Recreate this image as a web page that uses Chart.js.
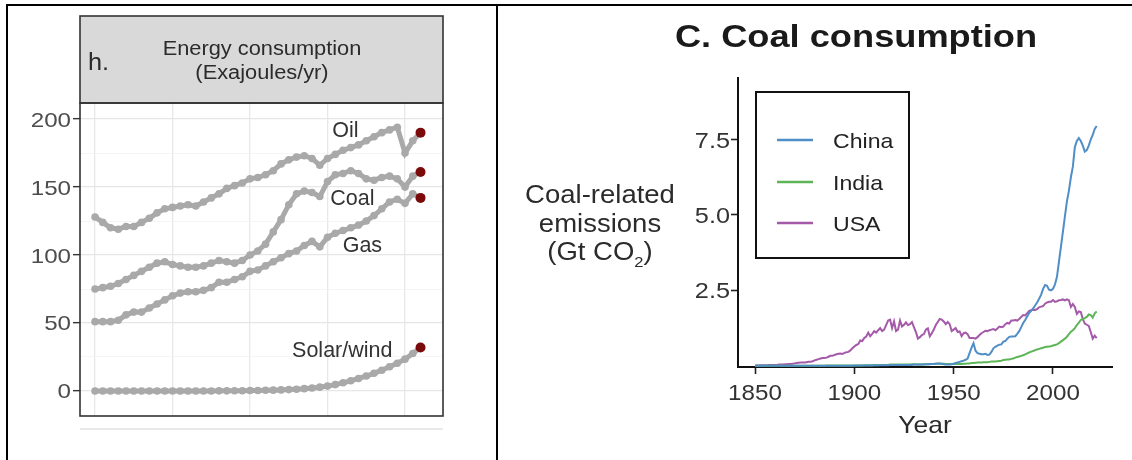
<!DOCTYPE html>
<html>
<head>
<meta charset="utf-8">
<title>Energy consumption and coal consumption</title>
<script src="https://cdn.jsdelivr.net/npm/chart.js@4.4.1/dist/chart.umd.min.js"></script>
<style>
  html, body { margin: 0; padding: 0; background: #fff; }
  #page { position: relative; width: 1132px; height: 460px; overflow: hidden; background: #fff; }
  canvas { position: absolute; top: 0; }
  #energy { left: 0; }
  #coal { left: 498px; }
  .rule { position: absolute; background: #000; z-index: 2; }
</style>
</head>
<body>
<div id="page">
  <canvas id="energy" width="497" height="460"></canvas>
  <canvas id="coal" width="634" height="460"></canvas>
  <div class="rule" style="left:6px;top:4px;width:1126px;height:2px"></div>
  <div class="rule" style="left:6px;top:4px;width:2px;height:456px"></div>
  <div class="rule" style="left:496px;top:4px;width:2px;height:456px"></div>
</div>
<script>
// ---------- Energy consumption (EJ per year), one value per year from 1980 ----------
const energyStartYear = 1980;
const oil = [
  128, 124, 120, 119, 121, 121, 124, 127, 131, 134,
  135, 136, 137, 136, 139, 142, 145, 149, 151, 153,
  156, 157, 159, 162, 167, 170, 172, 173, 171, 166,
  171, 174, 177, 179, 181, 184, 187, 190, 192, 194,
  175, 184, 190
];
const coal = [
  75, 76, 77, 79, 82, 85, 88, 91, 94, 95,
  93, 92, 91, 91, 92, 94, 96, 95, 94, 96,
  100, 103, 108, 117, 126, 137, 145, 147, 146, 143,
  154, 159, 160, 162, 160, 156, 155, 157, 158, 156,
  150, 158, 161
];
const gas = [
  51, 51, 51, 52, 56, 58, 58, 61, 64, 67,
  70, 72, 73, 73, 74, 76, 80, 80, 82, 84,
  88, 89, 92, 95, 98, 101, 103, 107, 110, 106,
  113, 116, 118, 120, 122, 125, 129, 134, 139, 141,
  138, 145, 142
];
const solarWind = [
  0, 0, 0, 0, 0, 0, 0, 0, 0, 0,
  0, 0, 0, 0, 0, 0, 0.1, 0.1, 0.2, 0.2,
  0.3, 0.4, 0.5, 0.6, 0.8, 1.0, 1.3, 1.7, 2.2, 2.8,
  3.6, 4.7, 6.0, 7.5, 9.2, 11.0, 13.0, 15.3, 17.8, 20.4,
  23.4, 27.6, 32
];
const energyNames = ['Oil', 'Coal', 'Gas', 'Solar/wind'];
const energyTickValues = [0, 50, 100, 150, 200];
const energyTickLabels = ['0', '50', '100', '150', '200'];
const energyMinorValues = [25, 75, 125, 175];
const energyGridYears = [1980, 1990, 2000, 2010, 2020];

// ---------- Coal-related CO2 emissions (Gt per year), one value per year from 1850 ----------
const coalStartYear = 1850;
const china = [
  0, 0, 0, 0, 0, 0, 0, 0, 0, 0,
  0, 0, 0, 0, 0, 0, 0, 0, 0, 0,
  0, 0, 0, 0, 0, 0, 0, 0, 0, 0,
  0, 0, 0, 0, 0, 0, 0, 0, 0, 0,
  0, 0, 0, 0, 0, 0, 0, 0, 0, 0,
  0.01, 0.01, 0.01, 0.01, 0.01, 0.01, 0.01, 0.01, 0.01, 0.01,
  0.02, 0.02, 0.02, 0.02, 0.02, 0.02, 0.02, 0.02, 0.03, 0.03,
  0.03, 0.03, 0.03, 0.03, 0.03, 0.03, 0.03, 0.03, 0.03, 0.03,
  0.04, 0.04, 0.04, 0.04, 0.04, 0.04, 0.05, 0.05, 0.05, 0.06,
  0.06, 0.07, 0.08, 0.08, 0.07, 0.05, 0.04, 0.04, 0.04, 0.05,
  0.07, 0.09, 0.11, 0.13, 0.15, 0.17, 0.20, 0.24, 0.42, 0.60,
  0.75, 0.50, 0.42, 0.40, 0.38, 0.38, 0.40, 0.36, 0.37, 0.46,
  0.58, 0.63, 0.67, 0.70, 0.71, 0.80, 0.82, 0.90, 0.96, 0.97,
  0.97, 0.98, 1.06, 1.15, 1.28, 1.42, 1.52, 1.63, 1.75, 1.82,
  1.90, 2.00, 2.10, 2.22, 2.35, 2.55, 2.68, 2.65, 2.52, 2.50,
  2.55, 2.70, 2.95, 3.45, 3.95, 4.45, 4.95, 5.45, 5.80, 6.25,
  6.60, 7.25, 7.45, 7.55, 7.45, 7.30, 7.10, 7.15, 7.30, 7.50,
  7.65, 7.85, 7.95
];
const india = [
  0, 0, 0, 0, 0, 0, 0, 0, 0, 0,
  0, 0, 0, 0, 0, 0, 0, 0, 0, 0,
  0, 0, 0, 0, 0, 0, 0, 0, 0, 0,
  0, 0, 0, 0, 0, 0, 0.01, 0.01, 0.01, 0.01,
  0.01, 0.01, 0.01, 0.01, 0.01, 0.01, 0.01, 0.01, 0.01, 0.01,
  0.01, 0.01, 0.01, 0.01, 0.01, 0.02, 0.02, 0.02, 0.02, 0.02,
  0.02, 0.02, 0.02, 0.03, 0.03, 0.03, 0.03, 0.03, 0.04, 0.04,
  0.04, 0.04, 0.04, 0.04, 0.04, 0.04, 0.04, 0.04, 0.04, 0.05,
  0.05, 0.04, 0.04, 0.04, 0.04, 0.05, 0.05, 0.05, 0.06, 0.06,
  0.06, 0.07, 0.07, 0.07, 0.07, 0.07, 0.06, 0.06, 0.06, 0.06,
  0.06, 0.06, 0.06, 0.06, 0.06, 0.07, 0.07, 0.08, 0.08, 0.09,
  0.09, 0.10, 0.11, 0.11, 0.11, 0.12, 0.12, 0.12, 0.13, 0.14,
  0.14, 0.14, 0.15, 0.16, 0.17, 0.19, 0.20, 0.21, 0.21, 0.23,
  0.24, 0.27, 0.29, 0.31, 0.33, 0.35, 0.38, 0.41, 0.44, 0.47,
  0.49, 0.52, 0.54, 0.56, 0.58, 0.60, 0.62, 0.63, 0.64, 0.65,
  0.67, 0.69, 0.71, 0.75, 0.80, 0.85, 0.90, 0.96, 1.05, 1.13,
  1.18, 1.25, 1.35, 1.43, 1.52, 1.55, 1.58, 1.62, 1.70, 1.68,
  1.60, 1.74, 1.80
];
const usa = [
  0.01, 0.01, 0.01, 0.02, 0.02, 0.02, 0.02, 0.03, 0.03, 0.03,
  0.03, 0.03, 0.04, 0.04, 0.04, 0.05, 0.05, 0.06, 0.06, 0.07,
  0.08, 0.09, 0.10, 0.11, 0.11, 0.11, 0.12, 0.13, 0.13, 0.15,
  0.18, 0.20, 0.22, 0.24, 0.26, 0.26, 0.27, 0.30, 0.33, 0.33,
  0.36, 0.38, 0.40, 0.41, 0.39, 0.43, 0.45, 0.46, 0.51, 0.58,
  0.64, 0.69, 0.72, 0.84, 0.82, 0.92, 0.97, 1.10, 0.98, 1.06,
  1.15, 1.10, 1.18, 1.25, 1.15, 1.20, 1.35, 1.50, 1.53, 1.25,
  1.47, 1.15, 1.20, 1.50, 1.30, 1.36, 1.44, 1.35, 1.38, 1.45,
  1.28, 1.12, 0.90, 0.95, 1.02, 1.05, 1.20, 1.24, 0.98, 1.08,
  1.20, 1.35, 1.45, 1.55, 1.53, 1.47, 1.38, 1.45, 1.38, 1.15,
  1.20, 1.25, 1.12, 1.14, 0.98, 1.08, 1.10, 1.05, 0.92, 0.92,
  0.92, 0.90, 0.95, 1.02, 1.08, 1.12, 1.16, 1.15, 1.18, 1.20,
  1.22, 1.18, 1.24, 1.30, 1.28, 1.30, 1.38, 1.42, 1.40, 1.50,
  1.50, 1.52, 1.50, 1.55, 1.62, 1.68, 1.67, 1.74, 1.82, 1.84,
  1.86, 1.85, 1.88, 1.94, 1.96, 1.98, 2.06, 2.10, 2.12, 2.12,
  2.18, 2.12, 2.14, 2.17, 2.18, 2.20, 2.17, 2.20, 2.17, 1.95,
  2.05, 1.95, 1.72, 1.80, 1.78, 1.55, 1.40, 1.36, 1.32, 1.12,
  0.90, 1.00, 0.92
];
const coalNames = ['China', 'India', 'USA'];
const coalYearTicks = [1850, 1900, 1950, 2000];
const coalValueTicks = [2.5, 5.0, 7.5];
const coalValueLabels = ['2.5', '5.0', '7.5'];

// ---------- styling ----------
const FONT = '"Liberation Sans", Arial, Helvetica, sans-serif';
const pointGrey = '#a9a9a9';
const lastPointRed = '#7b0a0a';
const coalColors = { China: '#4f8ec6', India: '#5db558', USA: '#a559a9' };
// where each energy label sits, in data units (year, EJ)
const energyLabelAt = {
  'Oil': [2012.3, 192.5],
  'Coal': [2013.2, 142.3],
  'Gas': [2014.5, 107.4],
  'Solar/wind': [2011.9, 30.5]
};

function toPoints(values, startYear) {
  return values.map((v, i) => ({ x: startYear + i, y: v }));
}

// text drawn with a slight horizontal widening of the glyphs
function wideText(ctx, str, x, y, font, color, align, sx) {
  ctx.save();
  ctx.font = font;
  ctx.fillStyle = color;
  ctx.textBaseline = 'alphabetic';
  ctx.textAlign = 'left';
  const w = ctx.measureText(str).width * sx;
  let x0 = x;
  if (align === 'center') x0 = x - w / 2;
  else if (align === 'right') x0 = x - w;
  ctx.translate(x0, y);
  ctx.scale(sx, 1);
  ctx.fillText(str, 0, 0);
  ctx.restore();
  return w;
}

// ---------- left panel ----------
const energyValues = [oil, coal, gas, solarWind];

const energyDecor = {
  id: 'energyDecor',
  beforeDraw(chart) {
    const { ctx, chartArea: a } = chart;
    ctx.save();
    ctx.fillStyle = '#d9d9d9';
    ctx.fillRect(a.left, 16, a.right - a.left, a.top - 16);
    ctx.restore();
  },
  afterDraw(chart) {
    const { ctx, chartArea: a, scales: { x, y } } = chart;
    ctx.save();
    ctx.strokeStyle = '#333';
    ctx.lineWidth = 1.6;
    ctx.strokeRect(a.left, 16, a.right - a.left, a.top - 16);
    ctx.strokeRect(a.left, a.top, a.right - a.left, a.bottom - a.top);
    ctx.restore();

    // strip text
    wideText(ctx, 'h.', 88, 70, '23px ' + FONT, '#2b2b2b', 'left', 1.1);
    wideText(ctx, 'Energy consumption', 262, 55, '20px ' + FONT, '#2b2b2b', 'center', 1.09);
    wideText(ctx, '(Exajoules/yr)', 262, 79, '20px ' + FONT, '#2b2b2b', 'center', 1.09);

    // value-axis labels
    energyTickValues.forEach((v, i) => {
      wideText(ctx, energyTickLabels[i], 71, y.getPixelForValue(v) + 7.5, '21px ' + FONT, '#4d4d4d', 'right', 1.15);
    });

    // series names
    energyNames.forEach(name => {
      const [lx, ly] = energyLabelAt[name];
      wideText(ctx, name, x.getPixelForValue(lx), y.getPixelForValue(ly) + 7.5, '21.5px ' + FONT, '#333', 'center', 1.0);
    });

    ctx.save();
    ctx.fillStyle = '#e9e9e9';
    ctx.fillRect(a.left, a.bottom + 12, a.right - a.left, 2);
    ctx.restore();
  }
};

new Chart(document.getElementById('energy'), {
  type: 'line',
  data: {
    datasets: energyNames.map((name, k) => ({
      label: name,
      data: toPoints(energyValues[k], energyStartYear),
      borderColor: pointGrey,
      borderWidth: 5,
      tension: 0,
      pointRadius: ctx => ctx.dataIndex === energyValues[k].length - 1 ? 5 : 3.8,
      pointBackgroundColor: ctx => ctx.dataIndex === energyValues[k].length - 1 ? lastPointRed : pointGrey,
      pointBorderWidth: 0,
      pointHoverRadius: 0
    }))
  },
  options: {
    responsive: false,
    animation: false,
    devicePixelRatio: 1,
    layout: { padding: { left: 0, top: 103, right: 54, bottom: 44 } },
    plugins: { legend: { display: false }, tooltip: { enabled: false } },
    scales: {
      x: {
        type: 'linear',
        min: 1978.06,
        max: 2024.9,
        afterBuildTicks: s => { s.ticks = energyGridYears.map(v => ({ value: v })); },
        afterFit: s => { s.height = 0; },
        ticks: { display: false },
        grid: { color: '#e8e8e8', lineWidth: 1.3, drawTicks: false },
        border: { display: false }
      },
      y: {
        type: 'linear',
        min: -18.4,
        max: 211.8,
        afterBuildTicks: s => {
          s.ticks = energyTickValues.concat(energyMinorValues).sort((a, b) => a - b).map(v => ({ value: v }));
        },
        afterFit: s => { s.width = 80; },
        ticks: { display: false },
        grid: {
          color: c => energyTickValues.includes(c.tick.value) ? '#e6e6e6' : '#f2f2f2',
          lineWidth: c => energyTickValues.includes(c.tick.value) ? 1.3 : 0.8,
          tickColor: c => energyTickValues.includes(c.tick.value) ? '#333' : 'rgba(0,0,0,0)',
          tickLength: 7,
          tickWidth: 1.4
        },
        border: { display: false }
      }
    }
  },
  plugins: [energyDecor]
});

// ---------- right panel ----------
const coalValues = [china, india, usa];

const coalDecor = {
  id: 'coalDecor',
  afterDraw(chart) {
    const { ctx, scales: { x, y } } = chart;
    const ink = '#2b2b2b';

    wideText(ctx, 'C. Coal consumption', 358, 47, 'bold 31.5px ' + FONT, '#1a1a1a', 'center', 1.15);

    // axis tick labels
    coalYearTicks.forEach(v => {
      wideText(ctx, String(v), x.getPixelForValue(v), 400, '22px ' + FONT, '#333', 'center', 1.1);
    });
    coalValueTicks.forEach((v, i) => {
      wideText(ctx, coalValueLabels[i], 232, y.getPixelForValue(v) + 8, '22px ' + FONT, '#333', 'right', 1.15);
    });

    // value-axis title, three lines with a subscript 2
    const big = '25px ' + FONT, small = '15px ' + FONT, sx = 1.1;
    wideText(ctx, 'Coal-related', 102, 203, big, ink, 'center', sx);
    wideText(ctx, 'emissions', 102, 232, big, ink, 'center', sx);
    ctx.save();
    ctx.font = big;
    const wA = ctx.measureText('(Gt CO').width * sx;
    const wB = ctx.measureText(')').width * sx;
    ctx.font = small;
    const wS = ctx.measureText('2').width * sx;
    ctx.restore();
    const left = 102 - (wA + wS + wB) / 2;
    wideText(ctx, '(Gt CO', left, 260, big, ink, 'left', sx);
    wideText(ctx, '2', left + wA, 267, small, ink, 'left', sx);
    wideText(ctx, ')', left + wA + wS, 260, big, ink, 'left', sx);

    // time-axis title
    wideText(ctx, 'Year', 427, 433, '24px ' + FONT, ink, 'center', 1.1);

    // legend box
    ctx.save();
    ctx.strokeStyle = '#111';
    ctx.lineWidth = 2;
    ctx.strokeRect(258, 92, 153, 166);
    const rowY = [140, 182, 223];
    coalNames.forEach((name, k) => {
      ctx.strokeStyle = coalColors[name];
      ctx.lineWidth = 2.5;
      ctx.beginPath();
      ctx.moveTo(279, rowY[k]);
      ctx.lineTo(315, rowY[k]);
      ctx.stroke();
    });
    ctx.restore();
    coalNames.forEach((name, k) => {
      wideText(ctx, name, 335, rowY_(k), '21px ' + FONT, '#222', 'left', 1.1);
    });
    function rowY_(k) { return [140, 182, 223][k] + 7.5; }
  }
};

new Chart(document.getElementById('coal'), {
  type: 'line',
  data: {
    datasets: coalNames.map((name, k) => ({
      label: name,
      data: toPoints(coalValues[k], coalStartYear),
      borderColor: coalColors[name],
      borderWidth: 2,
      tension: 0,
      pointRadius: 0,
      pointHoverRadius: 0
    }))
  },
  options: {
    responsive: false,
    animation: false,
    devicePixelRatio: 1,
    layout: { padding: { left: 0, top: 78, right: 20, bottom: 93 } },
    plugins: { legend: { display: false }, tooltip: { enabled: false } },
    scales: {
      x: {
        type: 'linear',
        min: 1841.44,
        max: 2029.7,
        afterBuildTicks: s => { s.ticks = coalYearTicks.map(v => ({ value: v })); },
        afterFit: s => { s.height = 0; },
        ticks: { display: false },
        grid: { drawOnChartArea: false, drawTicks: true, tickLength: 7, tickColor: '#222', tickWidth: 1.6 },
        border: { display: true, color: '#111', width: 2 }
      },
      y: {
        type: 'linear',
        min: -0.04,
        max: 9.54,
        afterBuildTicks: s => { s.ticks = coalValueTicks.map(v => ({ value: v })); },
        afterFit: s => { s.width = 240; },
        ticks: { display: false },
        grid: { drawOnChartArea: false, drawTicks: true, tickLength: 7, tickColor: '#222', tickWidth: 1.6 },
        border: { display: true, color: '#111', width: 2 }
      }
    }
  },
  plugins: [coalDecor]
});
</script>
</body>
</html>
